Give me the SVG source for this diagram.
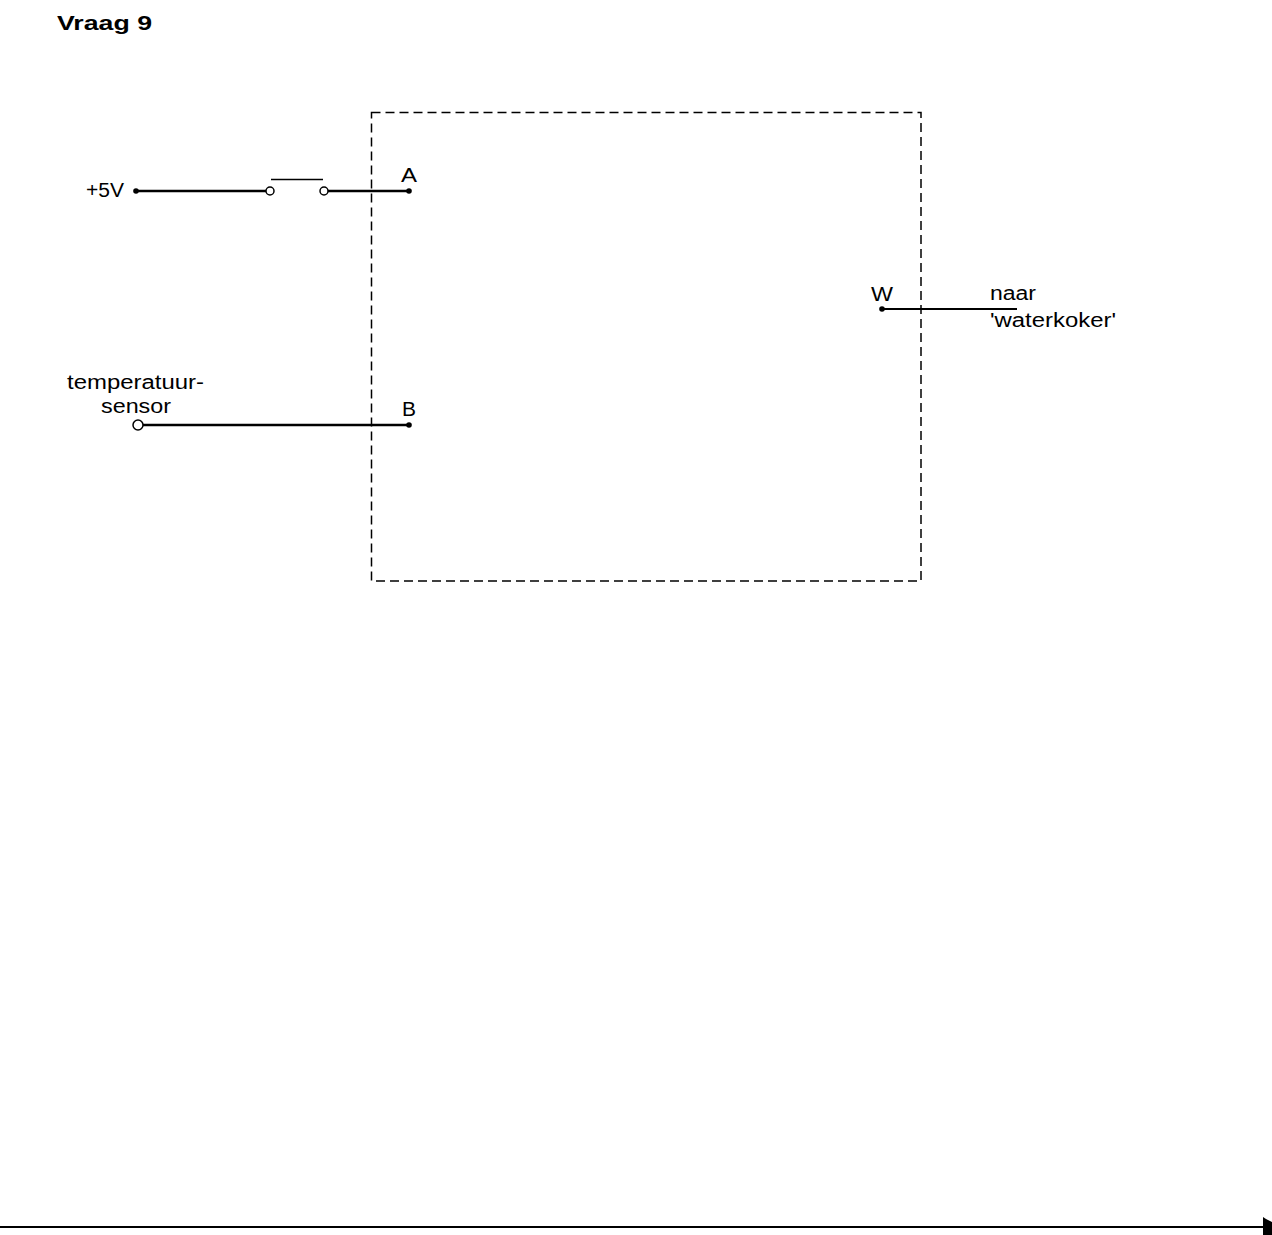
<svg xmlns="http://www.w3.org/2000/svg" width="1272" height="1235" viewBox="0 0 1272 1235">
<style>
text{font-family:"Liberation Sans",Arial,sans-serif;font-size:20px;fill:#000}
.title{font-weight:bold;font-size:21px}
.wire{stroke:#000;stroke-width:2.5;fill:none}
.thin{stroke:#000;stroke-width:2;fill:none}
.dot{fill:#000}
.term{fill:#fff;stroke:#000;stroke-width:1.5}
</style>
<rect width="1272" height="1235" fill="#fff"/>
<text class="title" x="57" y="30" textLength="95" lengthAdjust="spacingAndGlyphs">Vraag 9</text>
<g id="box">
<rect x="371.5" y="112.5" width="549.5" height="468.5" fill="none" stroke="#000" stroke-width="1.5" stroke-dasharray="9,5"/>
</g>
<g id="connectors">
<line class="wire" x1="136" y1="191" x2="266" y2="191"/>
<line class="wire" x1="328" y1="191" x2="409" y2="191"/>
<line class="wire" x1="143" y1="425" x2="409" y2="425"/>
<line class="thin" x1="882" y1="309" x2="1017" y2="309"/>
<line stroke="#000" stroke-width="2" x1="0" y1="1227" x2="1264" y2="1227"/>
<polygon points="1263,1217 1266,1219 1272,1222 1272,1235 1263,1235" fill="#000"/>
</g>
<g id="plus5v">
<circle class="dot" cx="136" cy="191" r="2.8"/>
<text x="86" y="197" textLength="38" lengthAdjust="spacingAndGlyphs">+5V</text>
</g>
<g id="switch">
<circle class="term" cx="270" cy="191" r="4"/>
<circle class="term" cx="324" cy="191" r="4"/>
<line stroke="#000" stroke-width="1.5" x1="271" y1="179.5" x2="323" y2="179.5"/>
</g>
<g id="A">
<circle class="dot" cx="409" cy="191" r="2.8"/>
<text x="401" y="182" textLength="16" lengthAdjust="spacingAndGlyphs">A</text>
</g>
<g id="sensor">
<circle class="term" cx="138" cy="425" r="5"/>
<text x="67" y="389" textLength="137" lengthAdjust="spacingAndGlyphs">temperatuur-</text>
<text x="101" y="413" textLength="70" lengthAdjust="spacingAndGlyphs">sensor</text>
</g>
<g id="B">
<circle class="dot" cx="409" cy="425" r="2.8"/>
<text x="402" y="416" textLength="14" lengthAdjust="spacingAndGlyphs">B</text>
</g>
<g id="W">
<circle class="dot" cx="882" cy="309" r="2.8"/>
<text x="871" y="301" textLength="22" lengthAdjust="spacingAndGlyphs">W</text>
</g>
<g id="waterkoker">
<text x="990" y="300" textLength="46" lengthAdjust="spacingAndGlyphs">naar</text>
<text x="990" y="327" textLength="126" lengthAdjust="spacingAndGlyphs">'waterkoker'</text>
</g>
</svg>
